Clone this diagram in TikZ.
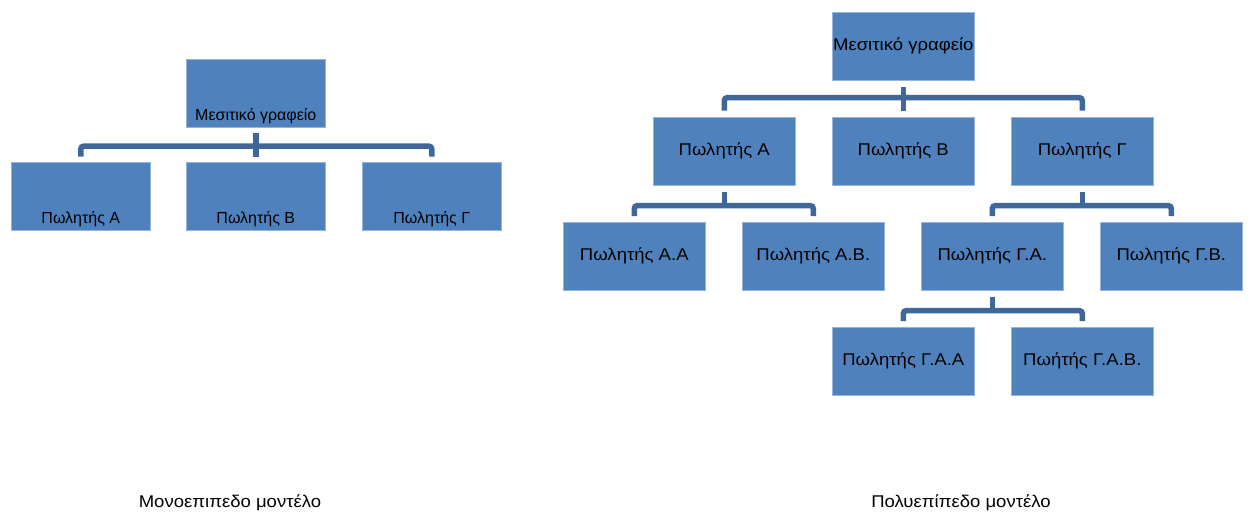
\documentclass[tikz,border=0pt]{standalone}
\usepackage{fontspec}
\setmainfont{Liberation Sans}
\newfontfamily\widesans[FakeStretch=1.09]{Liberation Sans}
\definecolor{boxblue}{RGB}{79,129,189}
\definecolor{boxedge}{RGB}{150,180,215}
\definecolor{linkblue}{RGB}{63,103,154}
\tikzset{
  unit/.style={rectangle, fill=boxblue, draw=boxedge, line width=0.6pt,
    inner sep=0pt, anchor=north west, align=center},
  flatbox/.style={unit, minimum width=139pt, text height=61.5pt, text depth=6pt,
    font=\fontsize{16}{18}\selectfont},
  treebox/.style={unit, minimum width=142pt, minimum height=68pt,
    font=\widesans\fontsize{17}{20}\selectfont},
  link/.style={draw=linkblue, line width=5.5pt, rounded corners=3pt},
  caption/.style={font=\widesans\fontsize{17}{20}\selectfont, anchor=base}
}
\begin{document}
\begin{tikzpicture}[x=1pt,y=-1pt]
\useasboundingbox (0,0) rectangle (1248,515);

% single-level model
\node[flatbox] (f0) at (186,59) {Μεσιτικό γραφείο};
\node[flatbox] (fA) at (11,162) {Πωλητής Α};
\node[flatbox] (fB) at (186,162) {Πωλητής Β};
\node[flatbox] (fC) at (362,162) {Πωλητής Γ};
\draw[link] ([yshift=5.5pt]fA.north) |- ([yshift=-19pt]f0.south) -| ([yshift=5.5pt]fC.north);
\draw[link] ([yshift=-6pt]f0.south) -- ([yshift=5.5pt]fB.north);

% multi-level model
\node[treebox] (t0) at (832,12) {Μεσιτικό γραφείο};
\node[treebox] (tA) at (653,117) {Πωλητής Α};
\node[treebox] (tB) at (832,117) {Πωλητής Β};
\node[treebox] (tC) at (1011,117) {Πωλητής Γ};
\node[treebox] (tAA) at (563,222) {Πωλητής Α.Α};
\node[treebox] (tAB) at (742,222) {Πωλητής Α.Β.};
\node[treebox] (tCA) at (921,222) {Πωλητής Γ.Α.};
\node[treebox] (tCB) at (1100,222) {Πωλητής Γ.Β.};
\node[treebox] (tCAA) at (832,327) {Πωλητής Γ.Α.Α};
\node[treebox] (tCAB) at (1011,327) {Πωήτής Γ.Α.Β.};

\draw[link] ([yshift=6.5pt]tA.north) |- ([yshift=-17pt]t0.south) -| ([yshift=6.5pt]tC.north);
\draw[link] ([yshift=-6pt]t0.south) -- ([yshift=6.5pt]tB.north);

\draw[link] ([yshift=6pt]tAA.north) |- ([yshift=-20pt]tA.south) -| ([yshift=6pt]tAB.north);
\draw[link] ([yshift=-6pt]tA.south) -- ([yshift=-20pt]tA.south);

\draw[link] ([yshift=6pt]tCA.north) |- ([yshift=-20pt]tC.south) -| ([yshift=6pt]tCB.north);
\draw[link] ([yshift=-6pt]tC.south) -- ([yshift=-20pt]tC.south);

\draw[link] ([yshift=6pt]tCAA.north) |- ([yshift=-20pt]tCA.south) -| ([yshift=6pt]tCAB.north);
\draw[link] ([yshift=-6pt]tCA.south) -- ([yshift=-20pt]tCA.south);

% captions
\node[caption] (capL) at (230,507.5) {Μονοεπιπεδο μοντέλο};
\node[caption] (capR) at (961,507.5) {Πολυεπίπεδο μοντέλο};
\end{tikzpicture}
\end{document}
